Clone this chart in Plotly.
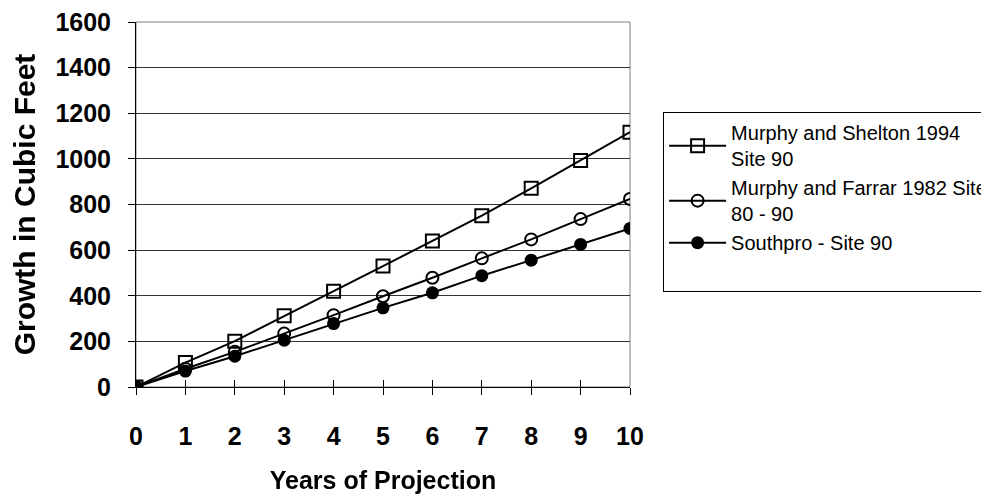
import plotly.graph_objects as go

years = [0, 1, 2, 3, 4, 5, 6, 7, 8, 9, 10]
shelton_1994 = [0, 107, 201, 312, 420, 530, 640, 751, 871, 993, 1117]
farrar_1982 = [0, 80, 154, 234, 315, 398, 479, 564, 647, 736, 824]
southpro = [0, 70, 135, 205, 278, 347, 413, 488, 556, 625, 695]

series_names = [
    "Murphy and Shelton 1994<br>Site 90",
    "Murphy and Farrar 1982 Site<br>80 - 90",
    "Southpro - Site 90",
]

FONT = "Liberation Sans, Arial, sans-serif"
LINE = dict(color="black", width=2)

fig = go.Figure()
fig.add_trace(go.Scatter(
    x=years, y=shelton_1994, name=series_names[0], mode="lines+markers",
    line=LINE,
    marker=dict(symbol="square-open", size=13, color="black", line=dict(width=2)),
))
fig.add_trace(go.Scatter(
    x=years, y=farrar_1982, name=series_names[1], mode="lines+markers",
    line=LINE,
    marker=dict(symbol="circle-open", size=12, color="black", line=dict(width=2)),
))
fig.add_trace(go.Scatter(
    x=years, y=southpro, name=series_names[2], mode="lines+markers",
    line=LINE,
    marker=dict(symbol="circle", size=13, color="black"),
))
# empty legend row: the original legend box has blank space at the bottom
fig.add_trace(go.Scatter(
    x=[None], y=[None], name=" ", mode="lines",
    line=dict(color="rgba(0,0,0,0)", width=0), hoverinfo="skip",
))
# invisible trace so the overlaid axis (inner half of crossing ticks) is drawn
fig.add_trace(go.Scatter(
    x=years, y=southpro, xaxis="x2", mode="markers", opacity=0,
    showlegend=False, hoverinfo="skip",
))

tick_font = dict(size=25, family=FONT, weight="bold")

# page body has an 8px margin, so the figure is 8px smaller than the window
fig.update_layout(
    width=981, height=486,
    paper_bgcolor="white", plot_bgcolor="white",
    margin=dict(l=128, r=359, t=14, b=107, autoexpand=False),
    font=dict(family=FONT, color="black"),
    legend=dict(
        x=1.067, y=0.753, xanchor="left", yanchor="top",
        bordercolor="black", borderwidth=1, bgcolor="white",
        font=dict(size=20, family=FONT), itemwidth=57,
    ),
    shapes=[dict(type="rect", xref="paper", yref="paper", x0=0, x1=1, y0=0, y1=1,
                 line=dict(color="#808080", width=1), layer="below")],
    xaxis=dict(
        range=[0, 10], dtick=1, tick0=0,
        showgrid=False, zeroline=False,
        showline=True, linecolor="black", linewidth=1,
        ticks="outside", ticklen=7, tickcolor="black", ticklabelstandoff=20,
        tickfont=tick_font, ticklabeloverflow="allow",
        title=dict(text="<b>Years of Projection</b>", font=dict(size=25), standoff=22),
    ),
    xaxis2=dict(
        overlaying="x", anchor="y", side="bottom", range=[0, 10], dtick=1, tick0=0,
        showgrid=False, zeroline=False, showline=False, showticklabels=False,
        ticks="inside", ticklen=7, tickcolor="black",
    ),
    yaxis=dict(
        range=[0, 1600], dtick=200,
        showgrid=True, gridcolor="#333333", gridwidth=1, zeroline=False,
        showline=True, linecolor="black", linewidth=1,
        ticks="outside", ticklen=7, tickcolor="black", ticklabelstandoff=12,
        tickfont=tick_font, ticklabeloverflow="allow",
        title=dict(text="<b>Growth in Cubic Feet</b>", font=dict(size=30), standoff=22),
    ),
)

fig.write_html("out.html")
